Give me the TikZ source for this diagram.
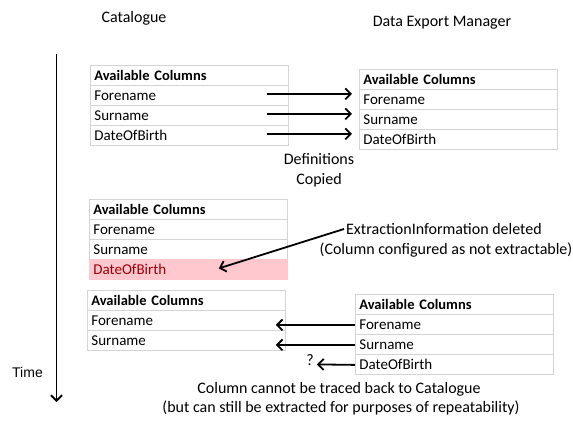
\documentclass[tikz,border=0pt]{standalone}
\usepackage{fontspec}
\setmainfont{Carlito}
\newfontfamily\arialf{Liberation Sans}
\usetikzlibrary{arrows.meta,calc}
\definecolor{grid}{HTML}{D4D4D4}
\definecolor{badfill}{HTML}{FFC7CE}
\definecolor{badtext}{HTML}{9C0006}
\tikzset{
  cell/.style={draw=grid, line width=0.8pt, anchor=north west, minimum height=20pt,
    text width=190pt, inner xsep=4pt, inner ysep=0pt, align=left,
    font=\fontsize{15}{17}\selectfont},
  headcell/.style={cell, font=\fontsize{14.5}{16}\selectfont\bfseries},
  badcell/.style={cell, fill=badfill, text=badtext, draw=badfill},
  lbl/.style={font=\fontsize{16}{18}\selectfont, inner sep=0pt},
  arr/.style={line width=1.8pt, -{Straight Barb[length=5.5pt,width=11pt,line width=1.8pt]}},
}
\begin{document}
\begin{tikzpicture}[x=1pt,y=-1pt]
\useasboundingbox (0,0) rectangle (573,433);
% headers
\node[lbl] (hcat) at (134,18) {Catalogue};
\node[lbl] (hdem) at (442,23) {Data Export Manager};
% time
\coordinate (t0) at (56.5,54);
\coordinate (t1) at (56.5,402);
\draw[arr] (t0) -- (t1);
\node[inner sep=0pt, font=\arialf\fontsize{14}{16}\selectfont] (time) at (27.5,372) {Time};
% table 1
\node[headcell] (c1h) at (90,65) {Available Columns};
\node[cell] (c1f) at (90,85) {Forename};
\node[cell] (c1s) at (90,105) {Surname};
\node[cell] (c1d) at (90,125) {DateOfBirth};
% table 2
\node[headcell] (d1h) at (359,69) {Available Columns};
\node[cell] (d1f) at (359,89) {Forename};
\node[cell] (d1s) at (359,109) {Surname};
\node[cell] (d1d) at (359,129) {DateOfBirth};
% copy arrows
\draw[arr] ([xshift=-22pt,yshift=1.5pt]c1f.east) -- ([xshift=-7pt,yshift=1.5pt]c1f.east -| d1f.west);
\draw[arr] ([xshift=-22pt,yshift=1.5pt]c1s.east) -- ([xshift=-7pt,yshift=1.5pt]c1s.east -| d1s.west);
\draw[arr] ([xshift=-22pt,yshift=1.5pt]c1d.east) -- ([xshift=-7pt,yshift=1.5pt]c1d.east -| d1d.west);
\node[lbl, align=center] (copied) at (319,170) {Definitions\\[2pt]Copied};
% table 3
\node[headcell] (c2h) at (89,199) {Available Columns};
\node[cell] (c2f) at (89,219) {Forename};
\node[cell] (c2s) at (89,239) {Surname};
\node[badcell] (c2d) at (89,259) {DateOfBirth};
\node[lbl] (del1) at (444,229) {ExtractionInformation deleted};
\node[lbl] (del2) at (446,250) {(Column configured as not extractable)};
\draw[arr] ([xshift=-2pt]del1.west) -- ([xshift=-69pt,yshift=1pt]c2d.east);
% table 4
\node[headcell] (c3h) at (87,290) {Available Columns};
\node[cell] (c3f) at (87,310) {Forename};
\node[cell] (c3s) at (87,330) {Surname};
% table 5
\node[headcell] (d2h) at (355,294) {Available Columns};
\node[cell] (d2f) at (355,314) {Forename};
\node[cell] (d2s) at (355,334) {Surname};
\node[cell] (d2d) at (355,354) {DateOfBirth};
\node[lbl] (q) at (310,360.5) {?};
\draw[arr] ([yshift=-0.5pt]d2f.west) -- ([xshift=-10pt,yshift=-0.5pt]d2f.west -| c3f.east);
\draw[arr] ([yshift=-0.5pt]d2s.west) -- ([xshift=-10pt,yshift=-0.5pt]d2s.west -| c3s.east);
\draw[arr] ([yshift=-0.5pt]d2d.west) -- ([xshift=3pt]q.east |- d2d.west);
\node[lbl] (nt1) at (339,389) {Column cannot be traced back to Catalogue};
\node[lbl] (nt2) at (341,408) {(but can still be extracted for purposes of repeatability)};
\end{tikzpicture}
\end{document}
